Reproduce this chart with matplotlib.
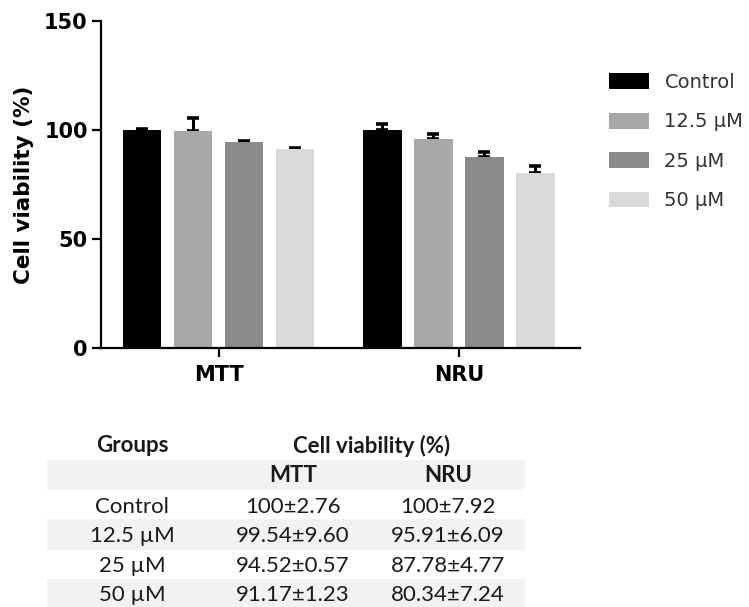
import matplotlib
matplotlib.use("Agg")
import matplotlib.pyplot as plt
import numpy as np
from matplotlib.patches import Patch, Rectangle

ensaios = ["MTT", "NRU"]
grupos = ["Control", "12.5 \u00b5M", "25 \u00b5M", "50 \u00b5M"]
media_mtt = [100, 99.54, 94.52, 91.17]
media_nru = [100, 95.91, 87.78, 80.34]
erro_mtt = [0.4, 6.0, 0.4, 0.4]
erro_nru = [2.6, 2.3, 2.0, 3.0]
cores = ["#000000", "#a8a8a8", "#8a8a8a", "#d9d9d9"]

tabela_mtt = ["100\u00b12.76", "99.54\u00b19.60", "94.52\u00b10.57", "91.17\u00b11.23"]
tabela_nru = ["100\u00b17.92", "95.91\u00b16.09", "87.78\u00b14.77", "80.34\u00b17.24"]

fig = plt.figure(figsize=(7.49, 6.07), dpi=100)
W, H = 749, 607

# Eixo do gráfico de barras
ax = fig.add_axes([101 / W, 1 - 348 / H, (580 - 101) / W, (348 - 21) / H])

x = np.arange(len(ensaios))
largura = 0.16
passo = 0.2125
medias = np.array([media_mtt, media_nru]).T
erros = np.array([erro_mtt, erro_nru]).T
for i, g in enumerate(grupos):
    pos = x + (i - 1.5) * passo
    ax.bar(pos, medias[i], width=largura, color=cores[i], zorder=2)
    # barra de erro só para cima (a parte de baixo fica escondida pela barra)
    ax.errorbar(pos, medias[i], yerr=[np.zeros(2), erros[i]], fmt="none",
                ecolor="black", elinewidth=2.2, capsize=4.5, capthick=2.6, zorder=1)

ax.set_xlim(-0.49, 1.504)
ax.set_ylim(0, 150)
ax.set_yticks([0, 50, 100, 150])
ax.set_xticks(x)
ax.set_xticklabels(ensaios, fontsize=15, fontweight="bold", family="DejaVu Sans")
for lbl in ax.get_yticklabels():
    lbl.set_fontsize(15)
    lbl.set_fontweight("bold")
ax.set_ylabel("Cell viability (%)", fontsize=15.5, fontweight="bold", labelpad=7)
ax.spines["top"].set_visible(False)
ax.spines["right"].set_visible(False)
ax.spines["left"].set_linewidth(1.6)
ax.spines["bottom"].set_linewidth(1.6)
ax.tick_params(axis="both", width=1.6, length=6.5)
ax.tick_params(axis="y", pad=3)
ax.tick_params(axis="x", pad=6)

# Legenda à direita
handles = [Patch(facecolor=c, edgecolor="none") for c in cores]
fig.legend(handles, grupos, loc="upper left", bbox_to_anchor=(609 / W, 1 - 73 / H),
           frameon=False, fontsize=14, handlelength=2.05, handleheight=0.88,
           handletextpad=0.8, labelspacing=1.05, borderpad=0, borderaxespad=0,
           labelcolor="#333333")

# Tabela embaixo, desenhada em coordenadas de pixel
tab = fig.add_axes([0, 0, 1, 1], zorder=-1)
tab.set_xlim(0, W)
tab.set_ylim(H, 0)
tab.axis("off")

cinza = "#f2f2f2"
faixas = [(460, 490), (519, 550), (579, 610)]
for y0, y1 in faixas:
    tab.add_patch(Rectangle((47, y0), 525 - 47, y1 - y0, facecolor=cinza, edgecolor="none"))

fonte = dict(family="Lato", fontsize=16, color="#1a1a1a", ha="center", va="center")
col_g, col_m, col_n = 132, 293, 448
tab.text(col_g, 446, "Groups", fontweight="bold", **fonte)
tab.text(372, 446, "Cell viability (%)", fontweight="bold", **fonte)
tab.text(col_m, 476, "MTT", fontweight="bold", **fonte)
tab.text(col_n, 476, "NRU", fontweight="bold", **fonte)
linhas_y = [507, 536, 566, 595]
for i, g in enumerate(grupos):
    tab.text(col_g, linhas_y[i], g, **fonte)
    tab.text(col_m, linhas_y[i], tabela_mtt[i], **fonte)
    tab.text(col_n, linhas_y[i], tabela_nru[i], **fonte)

plt.savefig("out.png", dpi=100)
plt.close()
